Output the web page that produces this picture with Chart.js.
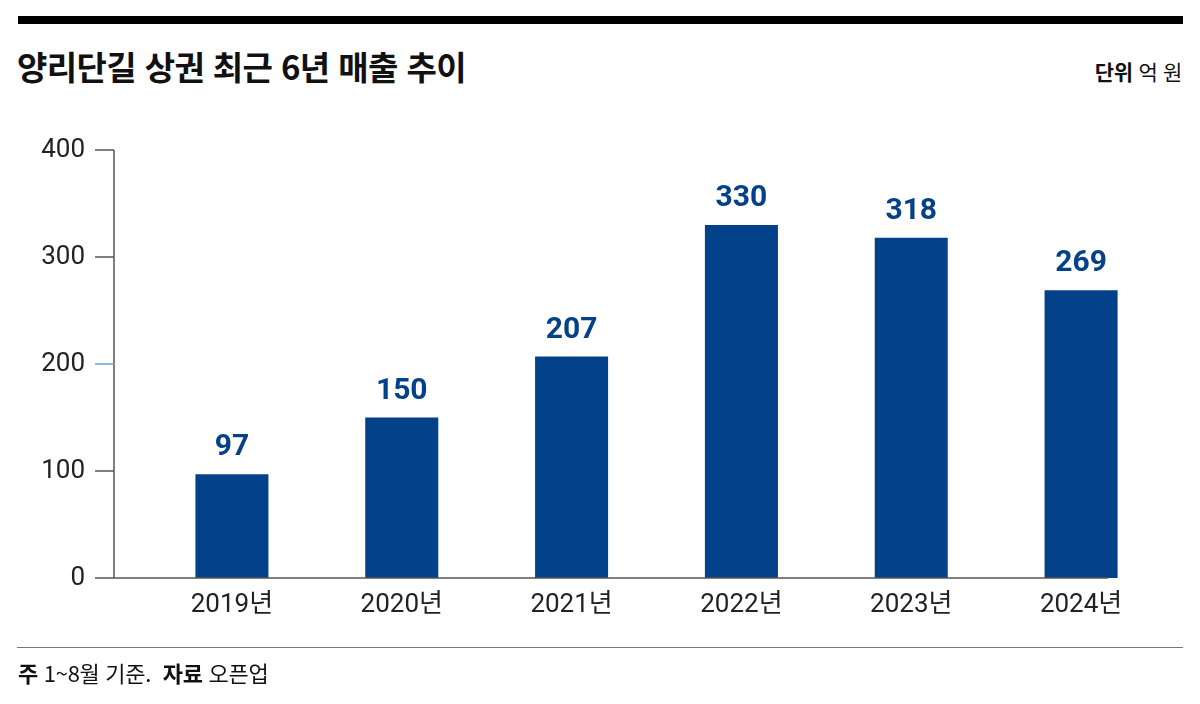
<!DOCTYPE html>
<html lang="ko">
<head>
<meta charset="utf-8">
<script src="https://cdn.jsdelivr.net/npm/chart.js@4"></script>
<style>
  html, body { margin: 0; padding: 0; background: #fff; }
  body { width: 1200px; height: 704px; position: relative; overflow: hidden;
         font-family: Roboto, "Noto Sans CJK KR", sans-serif; color: #111; }
  .topbar { position: absolute; left: 18px; top: 16px; width: 1165px; height: 8px; background: #000; }
  .title { position: absolute; left: 17px; top: 50px; font-size: 33px; line-height: 1; font-weight: 700;
           font-family: "Noto Sans CJK KR", sans-serif; letter-spacing: -0.6px; }
  .unit { position: absolute; right: 18px; top: 61px; font-size: 21px; line-height: 1;
          font-family: "Noto Sans CJK KR", sans-serif; letter-spacing: -0.3px; }
  .unit b { font-weight: 700; }
  .rule { position: absolute; left: 17px; top: 647px; width: 1166px; height: 1px; background: #777; }
  .note { position: absolute; left: 18px; top: 661px; font-size: 22px; line-height: 1;
          font-family: "Noto Sans CJK KR", sans-serif; letter-spacing: -0.3px; }
  .note b { font-weight: 700; }
  #wrap { position: absolute; left: 0; top: 0; width: 1200px; height: 704px; }
</style>
</head>
<body>
<div class="topbar"></div>
<div class="title">양리단길 상권 최근 6년 매출 추이</div>
<div class="unit"><b>단위</b> 억 원</div>
<div id="wrap"><canvas id="chart" width="1200" height="704"></canvas></div>
<div class="rule"></div>
<div class="note"><b>주</b> 1~8월 기준. &nbsp;<b>자료</b> 오픈업</div>
<script>
const years = ['2019년', '2020년', '2021년', '2022년', '2023년', '2024년'];
const sales = [97, 150, 207, 330, 318, 269];
const yTicks = [0, 100, 200, 300, 400];

const barBlue = '#03418b';
const fontStack = 'Roboto, "Noto Sans CJK KR", sans-serif';

// 축선, 눈금, 막대 위 값
const axesAndLabels = {
  id: 'axesAndLabels',
  afterDatasetsDraw(chart) {
    const c = chart.ctx;
    const y = chart.scales.y;
    const y0 = y.getPixelForValue(0);
    const yTop = y.getPixelForValue(400);
    c.save();
    c.strokeStyle = '#555';
    c.lineWidth = 1.5;
    c.beginPath();
    c.moveTo(114, yTop);
    c.lineTo(114, y0);
    c.moveTo(95, y0);
    c.lineTo(1108, y0);
    c.stroke();
    yTicks.forEach(v => {
      if (v === 0) return;
      const py = y.getPixelForValue(v);
      c.strokeStyle = v === 200 ? '#5aa9d8' : '#555';
      c.beginPath();
      c.moveTo(95, py);
      c.lineTo(114, py);
      c.stroke();
    });

    c.fillStyle = barBlue;
    c.font = 'bold 30px ' + fontStack;
    c.textAlign = 'center';
    c.textBaseline = 'alphabetic';
    chart.getDatasetMeta(0).data.forEach((bar, i) => {
      c.fillText(String(sales[i]), bar.x, bar.y - 19);
    });
    c.restore();
  }
};

new Chart(document.getElementById('chart'), {
  type: 'bar',
  data: {
    labels: years,
    datasets: [{
      data: sales,
      backgroundColor: barBlue,
      borderWidth: 0,
      barPercentage: 0.86,
      categoryPercentage: 0.5
    }]
  },
  options: {
    responsive: false,
    animation: false,
    events: [],
    layout: { padding: { top: 150, right: 34, left: 0, bottom: 0 } },
    plugins: { legend: { display: false }, tooltip: { enabled: false } },
    scales: {
      x: {
        grid: { display: false, drawTicks: false },
        border: { display: false },
        ticks: {
          color: '#222',
          padding: 12,
          font: { size: 26, family: fontStack }
        },
        afterFit(s) { s.height = 126; }
      },
      y: {
        min: 0,
        max: 400,
        afterBuildTicks(s) { s.ticks = yTicks.map(v => ({ value: v })); },
        grid: { display: false, drawTicks: false },
        border: { display: false },
        ticks: {
          color: '#222',
          padding: 62,
          font: { size: 26, family: fontStack }
        },
        afterFit(s) { s.width = 147; }
      }
    }
  },
  plugins: [axesAndLabels]
});
</script>
</body>
</html>
